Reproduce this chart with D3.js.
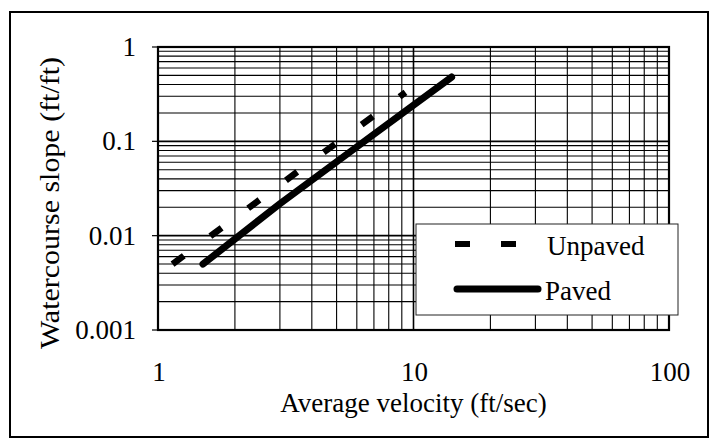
<!DOCTYPE html>
<html>
<head>
<meta charset="utf-8">
<script src="https://cdn.jsdelivr.net/npm/d3@7"></script>
<style>
  body { margin: 0; background: #fff; }
  svg { display: block; }
</style>
</head>
<body>
<script>
// values
const unpavedVelocity = [1.14, 2.2, 4.5, 9.3];
const unpavedSlope = [0.005, 0.0186, 0.078, 0.33];
const pavedVelocity = [1.5, 3, 7, 14.1];
const pavedSlope = [0.005, 0.0218, 0.119, 0.48];

const xTicks = [1, 10, 100];
const yTicks = [0.001, 0.01, 0.1, 1];
const xTickLabels = ["1", "10", "100"];
const yTickLabels = ["0.001", "0.01", "0.1", "1"];

const width = 713;
const height = 440;
const margin = { top: 47, right: 44, bottom: 110, left: 158 };
const serif = "Liberation Serif";

const svg = d3.select("body").append("svg")
  .attr("width", width)
  .attr("height", height);

// outer frame
svg.append("rect")
  .attr("x", 10).attr("y", 12)
  .attr("width", 698).attr("height", 425)
  .attr("fill", "none")
  .attr("stroke", "#000")
  .attr("stroke-width", 2);

const x = d3.scaleLog()
  .domain([1, 100])
  .range([margin.left, width - margin.right]);

const y = d3.scaleLog()
  .domain([0.001, 1])
  .range([height - margin.bottom, margin.top]);

// grid (minor + major)
const xGrid = x.ticks();
const yGrid = y.ticks();

svg.append("g")
  .selectAll("line")
  .data(xGrid)
  .enter()
  .append("line")
  .attr("x1", d => x(d)).attr("x2", d => x(d))
  .attr("y1", y(1)).attr("y2", y(0.001))
  .attr("stroke", "#000")
  .attr("stroke-width", d => xTicks.includes(d) ? 1.6 : 1.1);

svg.append("g")
  .selectAll("line")
  .data(yGrid)
  .enter()
  .append("line")
  .attr("x1", x(1)).attr("x2", x(100))
  .attr("y1", d => y(d)).attr("y2", d => y(d))
  .attr("stroke", "#000")
  .attr("stroke-width", d => yTicks.includes(d) ? 1.6 : 1.1);

// plot frame
svg.append("rect")
  .attr("x", x(1)).attr("y", y(1))
  .attr("width", x(100) - x(1))
  .attr("height", y(0.001) - y(1))
  .attr("fill", "none")
  .attr("stroke", "#000")
  .attr("stroke-width", 2.2);

// y tick marks
svg.append("g")
  .selectAll("line")
  .data(yTicks)
  .enter()
  .append("line")
  .attr("x1", x(1) - 6).attr("x2", x(1))
  .attr("y1", d => y(d)).attr("y2", d => y(d))
  .attr("stroke", "#000")
  .attr("stroke-width", 1.2);

function label(px, py, str, anchor) {
  return svg.append("text")
    .attr("x", px)
    .attr("y", py)
    .attr("text-anchor", anchor)
    .attr("font-family", serif)
    .attr("font-size", 27)
    .attr("fill", "#000")
    .text(str);
}

yTicks.forEach((t, i) => label(136, y(t) + 9, yTickLabels[i], "end"));
xTicks.forEach((t, i) => label(x(t) + 1, 381, xTickLabels[i], "middle"));

label((x(1) + x(100)) / 2, 412, "Average velocity (ft/sec)", "middle");

svg.append("text")
  .attr("transform", "translate(59,203) rotate(-90)")
  .attr("text-anchor", "middle")
  .attr("font-family", serif)
  .attr("font-size", 27)
  .attr("textLength", 292)
  .attr("lengthAdjust", "spacingAndGlyphs")
  .attr("fill", "#000")
  .text("Watercourse slope (ft/ft)");

// series
const line = d3.line()
  .x(d => x(d[0]))
  .y(d => y(d[1]));

const unpaved = unpavedVelocity.map((v, i) => [v, unpavedSlope[i]]);
const paved = pavedVelocity.map((v, i) => [v, pavedSlope[i]]);

svg.append("path")
  .datum(unpaved)
  .attr("d", line)
  .attr("fill", "none")
  .attr("stroke", "#000")
  .attr("stroke-width", 6.5)
  .attr("stroke-dasharray", "14,33");

svg.append("path")
  .datum(paved)
  .attr("d", line)
  .attr("fill", "none")
  .attr("stroke", "#000")
  .attr("stroke-width", 7)
  .attr("stroke-linecap", "round");

// legend
const legend = svg.append("g");
legend.append("rect")
  .attr("x", 416).attr("y", 224)
  .attr("width", 262).attr("height", 91)
  .attr("fill", "#fff")
  .attr("stroke", "#222")
  .attr("stroke-width", 1);

legend.append("line")
  .attr("x1", 455).attr("x2", 518)
  .attr("y1", 244).attr("y2", 244)
  .attr("stroke", "#000")
  .attr("stroke-width", 6)
  .attr("stroke-dasharray", "15,31");

legend.append("line")
  .attr("x1", 457).attr("x2", 538)
  .attr("y1", 289).attr("y2", 289)
  .attr("stroke", "#000")
  .attr("stroke-width", 7)
  .attr("stroke-linecap", "round");

label(547, 255, "Unpaved", "start");
label(545, 300, "Paved", "start");
</script>
</body>
</html>
